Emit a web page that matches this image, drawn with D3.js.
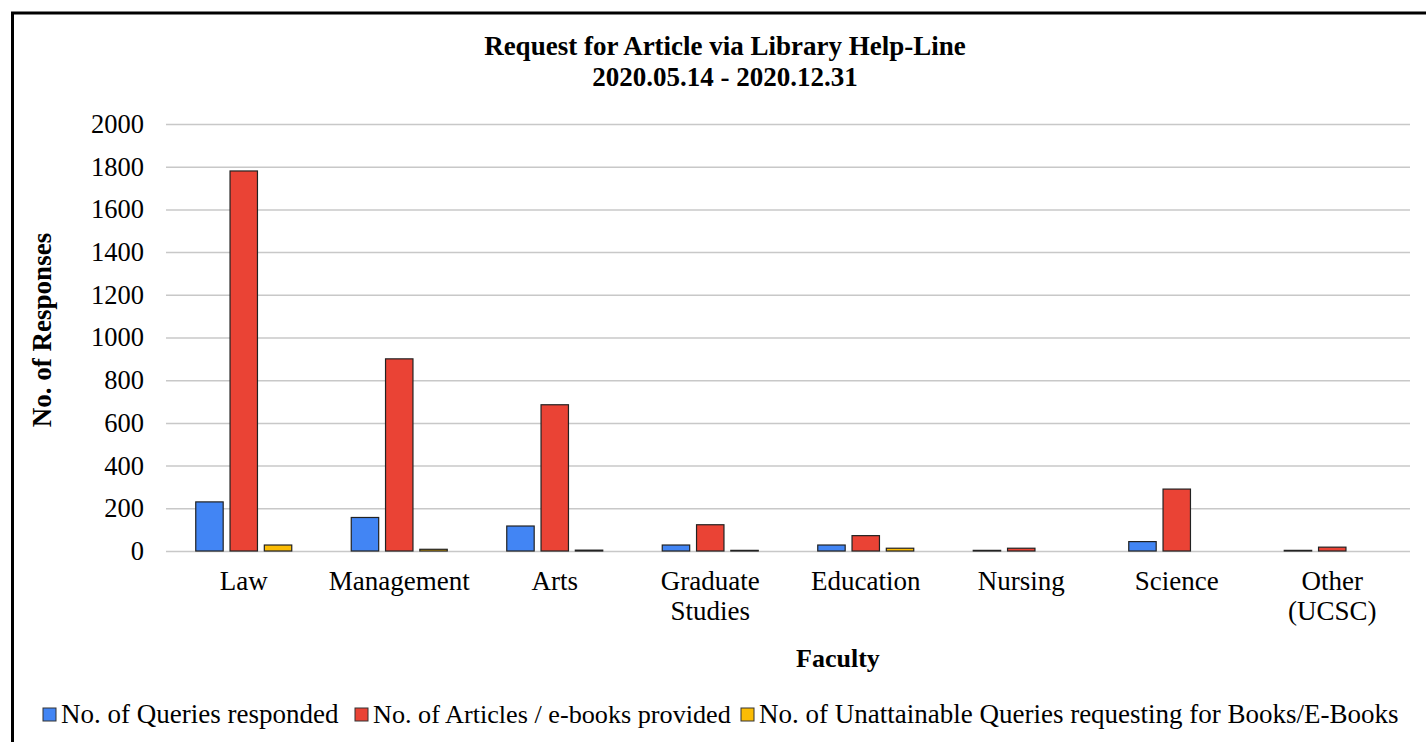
<!DOCTYPE html>
<html>
<head>
<meta charset="utf-8">
<script src="https://cdn.jsdelivr.net/npm/d3@7"></script>
<style>
  body { margin: 0; background: #fff; }
</style>
</head>
<body>
<div id="chart"></div>
<script>
// chart data
var faculties = ["Law", "Management", "Arts", "Graduate Studies", "Education", "Nursing", "Science", "Other (UCSC)"];
var facultyLines = [["Law"], ["Management"], ["Arts"], ["Graduate", "Studies"], ["Education"], ["Nursing"], ["Science"], ["Other", "(UCSC)"]];
var seriesNames = ["No. of Queries responded", "No. of Articles / e-books provided", "No. of Unattainable Queries requesting for Books/E-Books"];
var queriesResponded = [230, 157, 117, 28, 28, 3, 44, 3];
var articlesProvided = [1780, 900, 685, 123, 72, 13, 290, 18];
var unattainable = [28, 8, 4, 3, 13, 0, 0, 0];
var yTicks = [0, 200, 400, 600, 800, 1000, 1200, 1400, 1600, 1800, 2000];
var colors = ["#4285F4", "#EA4335", "#FBBC04"];

var serif = "Liberation Serif";

var svgWidth = 1426, svgHeight = 742;
var margin = { top: 124, right: 16, bottom: 191, left: 166 };
var width = svgWidth - margin.left - margin.right;
var height = svgHeight - margin.top - margin.bottom;

var svg = d3.select("#chart").append("svg")
  .attr("width", svgWidth)
  .attr("height", svgHeight);

// outer frame (runs off right/bottom)
svg.append("rect")
  .attr("x", 12.5).attr("y", 13)
  .attr("width", 1500).attr("height", 900)
  .attr("fill", "none").attr("stroke", "#000").attr("stroke-width", 3);

// title
svg.append("text").attr("x", 725).attr("y", 55)
  .attr("text-anchor", "middle").attr("font-family", serif).attr("font-size", 27).attr("font-weight", "bold")
  .text("Request for Article via Library Help-Line");
svg.append("text").attr("x", 725).attr("y", 86)
  .attr("text-anchor", "middle").attr("font-family", serif).attr("font-size", 27).attr("font-weight", "bold")
  .text("2020.05.14 - 2020.12.31");

var chartGroup = svg.append("g").attr("transform", `translate(${margin.left}, ${margin.top})`);

var x0 = d3.scaleBand().domain(faculties).range([0, width]).padding(0);
var x1 = d3.scaleBand().domain([0, 1, 2]).range([x0.bandwidth() / 2 - 48, x0.bandwidth() / 2 + 48]).paddingInner(0.2).paddingOuter(0);
var y = d3.scaleLinear().domain([0, 2000]).range([height, 0]);

// gridlines
chartGroup.append("g")
  .call(d3.axisLeft(y).tickValues(yTicks).tickSize(-width).tickFormat(""))
  .call(g => g.select(".domain").remove())
  .call(g => g.selectAll("line").attr("stroke", "#c8c8c8").attr("stroke-width", 1.5));

// y tick labels
chartGroup.append("g")
  .call(d3.axisLeft(y).tickValues(yTicks).tickSize(0).tickPadding(22).tickFormat(d3.format("d")))
  .attr("font-family", serif).attr("font-size", 26.5)
  .call(g => g.select(".domain").remove())
  .call(g => g.selectAll("text").attr("fill", "#000"));

var seriesData = [queriesResponded, articlesProvided, unattainable];
var rows = faculties.map((f, i) => ({ faculty: f, values: seriesData.map((s, k) => ({ k: k, v: s[i] })) }));

var groups = chartGroup.selectAll(".grp").data(rows).enter().append("g")
  .attr("transform", d => `translate(${x0(d.faculty)},0)`);

groups.selectAll("rect").data(d => d.values.filter(v => v.v > 0)).enter().append("rect")
  .attr("x", d => x1(d.k))
  .attr("width", x1.bandwidth())
  .attr("y", d => y(d.v))
  .attr("height", d => height - y(d.v))
  .attr("fill", d => colors[d.k])
  .attr("stroke", "#222").attr("stroke-width", 1.2);

// category labels
var cat = chartGroup.append("g");
facultyLines.forEach(function(lines, i) {
  var cx = x0(faculties[i]) + x0.bandwidth() / 2;
  var t = cat.append("text")
    .attr("x", cx)
    .attr("y", height + 39)
    .attr("text-anchor", "middle").attr("font-family", serif).attr("font-size", 27);
  lines.forEach(function(l, j) {
    t.append("tspan").attr("x", cx).attr("dy", j === 0 ? 0 : 30).text(l);
  });
});

// axis titles
svg.append("text").attr("x", 838).attr("y", 667)
  .attr("text-anchor", "middle").attr("font-family", serif).attr("font-size", 26).attr("font-weight", "bold")
  .text("Faculty");
svg.append("text")
  .attr("transform", "translate(51, 330) rotate(-90)")
  .attr("text-anchor", "middle").attr("font-family", serif).attr("font-size", 27).attr("font-weight", "bold")
  .text("No. of Responses");

// legend
var legendX = [43, 355, 741];
var legend = svg.append("g");
seriesNames.forEach(function(n, i) {
  legend.append("rect").attr("x", legendX[i]).attr("y", 708).attr("width", 13).attr("height", 13)
    .attr("fill", colors[i]).attr("stroke", "#333").attr("stroke-width", 1);
  legend.append("text").attr("x", legendX[i] + 18).attr("y", 723)
    .attr("font-family", serif).attr("font-size", i === 1 ? 26.2 : 27).text(n);
});
</script>
</body>
</html>
